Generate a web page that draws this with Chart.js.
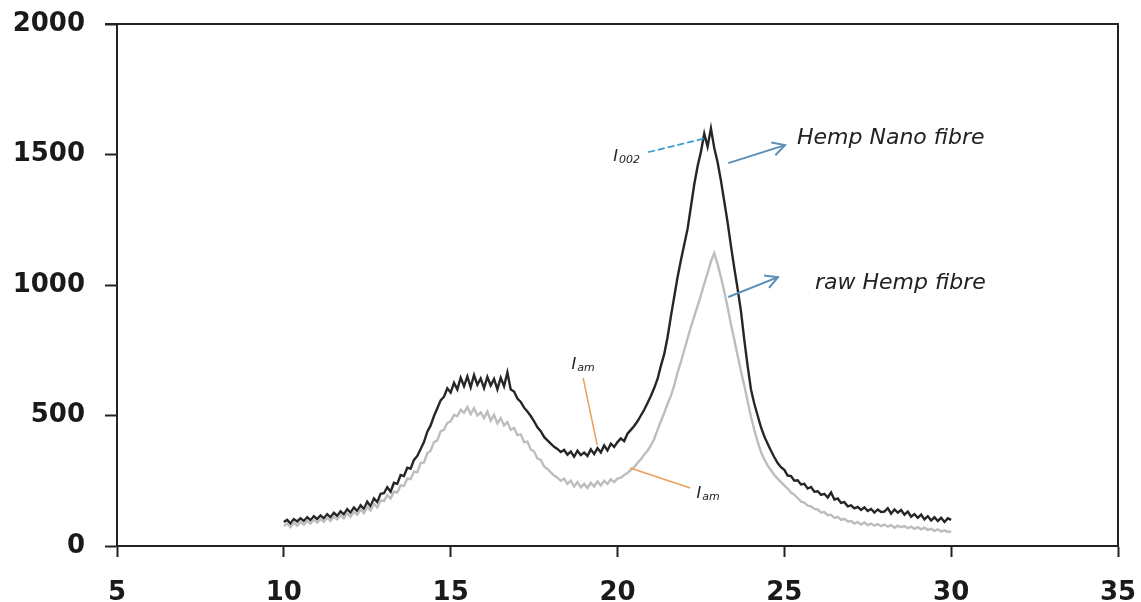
<!DOCTYPE html>
<html>
<head>
<meta charset="utf-8">
<script src="https://cdn.jsdelivr.net/npm/chart.js@4"></script>
<style>
html,body{margin:0;padding:0;background:#fff;}
#wrap{width:1141px;height:602px;position:relative;}
</style>
</head>
<body>
<div id="wrap"><canvas id="c" width="1141" height="602"></canvas></div>
<script>
// 2θ values from 10.0 to 30.0, step 0.1
const twoTheta = [];
for (let i = 0; i <= 200; i++) twoTheta.push(+(10 + i * 0.1).toFixed(1));

const nanoFibre = [
92,100,86,103,94,106,96,110,99,114,
103,117,106,122,110,127,115,133,121,141,
128,148,134,156,142,170,152,182,168,200,
202,225,208,242,238,272,268,300,296,330,
345,372,398,438,462,498,528,558,572,604,
588,625,600,645,612,650,608,655,618,642,
605,648,615,640,600,645,612,665,600,592,
565,552,530,515,498,478,455,440,418,405,
392,380,372,360,368,350,362,342,365,348,
358,345,370,352,375,358,385,366,392,380,
398,412,402,430,445,460,478,500,522,548,
575,605,640,690,735,800,880,955,1030,1095,
1155,1215,1300,1385,1455,1510,1580,1530,1600,1525,
1470,1400,1320,1240,1150,1065,985,900,790,690,
600,545,500,455,420,392,365,340,318,302,
292,270,268,250,252,236,238,220,226,208,
210,196,200,186,205,178,182,165,168,152,
156,144,150,138,148,134,142,128,140,130,
132,145,124,140,128,138,120,132,112,122,
108,120,102,114,98,110,96,108,92,106,
100
];

const rawFibre = [
76,86,72,90,78,93,82,97,86,101,
90,104,93,109,96,113,102,118,106,126,
112,132,120,140,126,150,136,162,148,175,
172,195,182,208,205,232,230,258,256,285,
282,318,320,355,365,398,405,440,445,472,
478,502,498,522,510,532,505,528,500,512,
490,515,480,502,470,490,462,475,445,452,
425,428,398,400,370,362,335,330,305,295,
282,270,262,250,258,238,250,228,245,225,
238,222,242,228,248,232,250,238,256,245,
258,262,272,280,292,302,318,332,350,365,
385,410,445,478,510,545,575,615,665,705,
750,795,840,880,920,960,1005,1045,1090,1122,
1080,1030,975,915,850,790,730,670,615,555,
495,445,400,360,332,308,290,272,258,245,
232,220,205,196,184,170,166,155,152,142,
140,128,130,118,120,108,112,100,104,94,
96,86,92,82,90,80,86,78,84,76,
82,74,80,70,78,72,76,68,74,66,
72,64,70,62,66,58,64,56,60,54,
56
];

const xTicks = [5, 10, 15, 20, 25, 30, 35];
const yTicks = [0, 500, 1000, 1500, 2000];

const seriesLabels = ["Hemp Nano fibre", "raw Hemp fibre"];

const annotationPlugin = {
  id: 'annot',
  afterDraw(chart) {
    const ctx = chart.ctx;
    const xs = chart.scales.x, ys = chart.scales.y;
    const P = (x, y) => [xs.getPixelForValue(x), ys.getPixelForValue(y)];
    const a = chart.chartArea;
    ctx.save();
    ctx.strokeStyle = '#222';
    ctx.lineWidth = 2;
    ctx.beginPath();
    ctx.moveTo(a.left - 12, a.top); ctx.lineTo(a.right, a.top); ctx.lineTo(a.right, a.bottom);
    ctx.stroke();

    function line(p1, p2, color, w, dash) {
      ctx.strokeStyle = color; ctx.lineWidth = w;
      ctx.setLineDash(dash || []);
      ctx.beginPath(); ctx.moveTo(p1[0], p1[1]); ctx.lineTo(p2[0], p2[1]); ctx.stroke();
      ctx.setLineDash([]);
    }
    function arrow(p1, p2, color) {
      line(p1, p2, color, 2);
      const ang = Math.atan2(p2[1] - p1[1], p2[0] - p1[0]);
      const L = 14;
      ctx.beginPath();
      ctx.moveTo(p2[0] - L * Math.cos(ang - 0.5), p2[1] - L * Math.sin(ang - 0.5));
      ctx.lineTo(p2[0], p2[1]);
      ctx.lineTo(p2[0] - L * Math.cos(ang + 0.5), p2[1] - L * Math.sin(ang + 0.5));
      ctx.stroke();
    }
    const blue = '#5b8fb8';
    const orange = '#e8a060';
    arrow(P(23.32, 1467), P(25.02, 1536), blue);
    arrow(P(23.32, 954), P(24.81, 1030), blue);
    line(P(20.92, 1509), P(22.66, 1563), '#3aa0d0', 1.8, [7, 3]);
    line(P(18.97, 644), P(19.39, 387), orange, 1.5);
    line(P(22.18, 222), P(20.38, 299), orange, 1.5);

    ctx.fillStyle = '#222';
    ctx.textBaseline = 'middle';
    ctx.textAlign = 'left';
    ctx.font = 'italic 22px "DejaVu Sans"';
    let p = P(25.38, 1563);
    ctx.fillText(seriesLabels[0], p[0], p[1]);
    p = P(25.92, 1005);
    ctx.fillText(seriesLabels[1], p[0], p[1]);

    function sublabel(x, y, main, sub) {
      const q = P(x, y);
      ctx.font = 'italic 16px "DejaVu Sans"';
      ctx.fillText(main, q[0], q[1]);
      const w = ctx.measureText(main).width;
      ctx.font = 'italic 11px "DejaVu Sans"';
      ctx.fillText(sub, q[0] + w + 1, q[1] + 3);
    }
    sublabel(19.87, 1490, 'I', '002');
    sublabel(18.62, 693, 'I', 'am');
    sublabel(22.37, 199, 'I', 'am');
    ctx.restore();
  }
};

function zeroPad(s) { s.paddingTop = 0; s.paddingBottom = 0; s.paddingLeft = 0; s.paddingRight = 0; }

new Chart(document.getElementById('c'), {
  type: 'line',
  data: {
    labels: twoTheta,
    datasets: [
      {
        label: seriesLabels[1],
        data: twoTheta.map((x, i) => ({x: x, y: rawFibre[i]})),
        borderColor: '#bdbdbd', borderWidth: 2.4, pointRadius: 0, tension: 0, fill: false
      },
      {
        label: seriesLabels[0],
        data: twoTheta.map((x, i) => ({x: x, y: nanoFibre[i]})),
        borderColor: '#262626', borderWidth: 2.4, pointRadius: 0, tension: 0, fill: false
      }
    ]
  },
  options: {
    responsive: false,
    animation: false,
    devicePixelRatio: 1,
    layout: { padding: { left: 0, right: 23, top: 24, bottom: 0 } },
    plugins: { legend: { display: false }, tooltip: { enabled: false } },
    scales: {
      x: {
        type: 'linear', min: 5, max: 35,
        afterBuildTicks(s) { s.ticks = xTicks.map(v => ({value: v})); },
        afterFit(s) { s.height = 56; zeroPad(s); },
        grid: { drawOnChartArea: false, drawTicks: true, tickLength: 11, tickColor: '#222', tickWidth: 2 },
        border: { display: true, color: '#222', width: 2 },
        ticks: { color: '#1a1a1a', padding: 21, maxRotation: 0, callback: v => String(v), font: { family: 'DejaVu Sans', weight: 'bold', size: 26 } }
      },
      y: {
        type: 'linear', min: 0, max: 2000,
        afterBuildTicks(s) { s.ticks = yTicks.map(v => ({value: v})); },
        afterFit(s) { s.width = 117; zeroPad(s); },
        grid: { drawOnChartArea: false, drawTicks: true, tickLength: 12, tickColor: '#222', tickWidth: 2 },
        border: { display: true, color: '#222', width: 2 },
        ticks: { color: '#1a1a1a', padding: 20, callback: v => String(v), font: { family: 'DejaVu Sans', weight: 'bold', size: 26 } }
      }
    }
  },
  plugins: [annotationPlugin]
});
</script>
</body>
</html>
